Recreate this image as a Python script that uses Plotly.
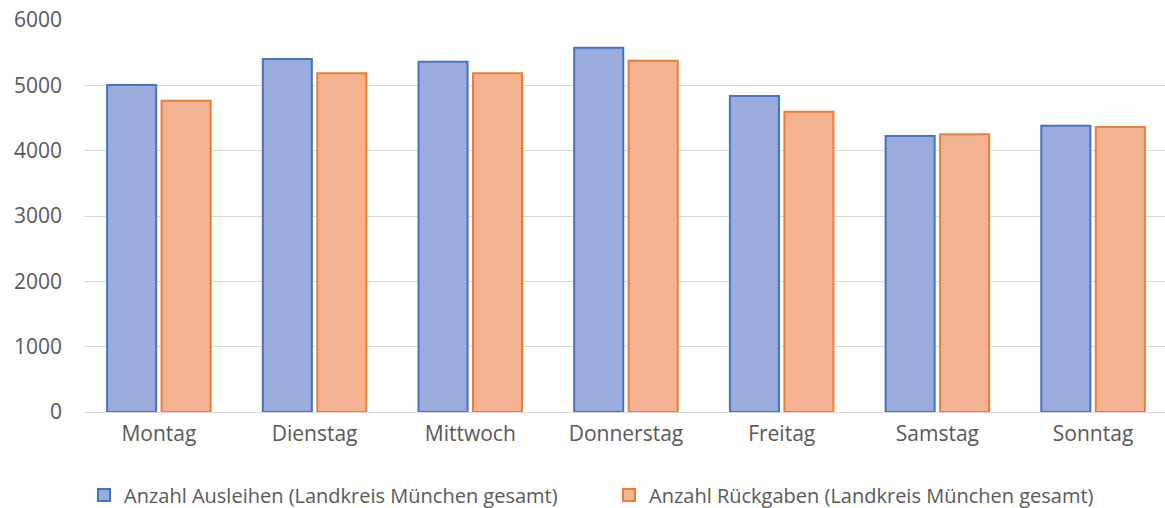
import plotly.graph_objects as go

days = ["Montag", "Dienstag", "Mittwoch", "Donnerstag", "Freitag", "Samstag", "Sonntag"]
ausleihen = [5005, 5403, 5362, 5576, 4837, 4225, 4382]
rueckgaben = [4765, 5184, 5184, 5378, 4597, 4250, 4362]
y_ticks = [0, 1000, 2000, 3000, 4000, 5000, 6000]

name_a = "Anzahl Ausleihen (Landkreis München gesamt)"
name_r = "Anzahl Rückgaben (Landkreis München gesamt)"

font_family = "Open Sans, Noto Sans, sans-serif"
text_color = "#595959"

fig = go.Figure()
fig.add_trace(go.Bar(
    x=days, y=ausleihen, name=name_a,
    marker=dict(color="#99ACDC", line=dict(color="#4472C4", width=2)),
))
fig.add_trace(go.Bar(
    x=days, y=rueckgaben, name=name_r,
    marker=dict(color="#F6B392", line=dict(color="#ED7D31", width=2)),
))

fig.update_layout(
    width=1165, height=508,
    margin=dict(l=84, r=0, t=20, b=96, autoexpand=False),
    paper_bgcolor="white", plot_bgcolor="white",
    barmode="group", bargap=0.30, bargroupgap=0.10,
    font=dict(family=font_family, size=21, color=text_color),
    showlegend=True,
    legend=dict(orientation="h", x=0.0, xanchor="left", y=-0.212, yanchor="middle",
                font=dict(size=20, color=text_color), itemsizing="constant",
                traceorder="normal", itemwidth=30, entrywidth=480),
    xaxis=dict(range=[-0.481, 6.462], showgrid=False, showline=False, ticks="",
               tickfont=dict(size=21, color=text_color), ticklabelstandoff=7),
    yaxis=dict(range=[0, 6000], tickvals=y_ticks, showgrid=True, gridcolor="#D9D9D9",
               gridwidth=1, zeroline=True, zerolinecolor="#D9D9D9", zerolinewidth=1,
               showline=False, ticks="", tickfont=dict(size=21, color=text_color),
               ticklabelstandoff=21),
)

fig.write_html("out.html", config={"displayModeBar": False},
               post_script="document.body.style.margin='0px';")
